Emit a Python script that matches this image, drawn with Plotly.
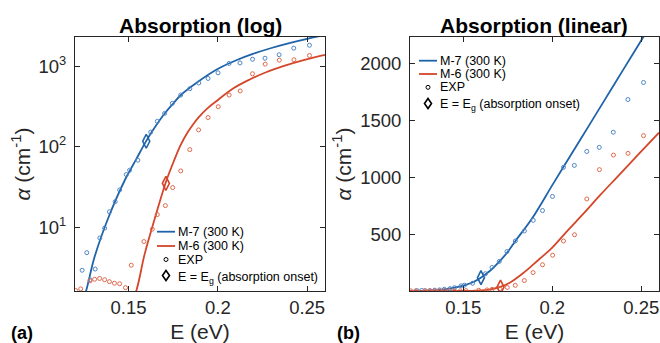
import plotly.graph_objects as go

# ---------------- data ----------------
E_m7 = [0.1200, 0.1230, 0.1262, 0.1309, 0.1384, 0.1478, 0.1543, 0.1596, 0.1650, 0.1702,
        0.1750, 0.1796, 0.1887, 0.2001, 0.2100, 0.2200, 0.2300, 0.2400, 0.2506, 0.2600]
a_m7 = [0.6, 1.0, 1.6, 4.2, 12.6, 38, 70, 115, 178, 259,
        345, 447, 640, 934, 1185, 1440, 1695, 1950, 2220, 2460]

E_m6 = [0.1200, 0.1400, 0.1480, 0.1543, 0.1590, 0.1646, 0.1712, 0.1758, 0.1790, 0.1830,
        0.1860, 0.1892, 0.1940, 0.1991, 0.2085, 0.2179, 0.2270, 0.2366, 0.2480, 0.2600]
a_m6 = [0.02, 0.2, 0.7, 1.6, 4.6, 12.6, 38, 70, 103, 150,
        188, 232, 298, 368, 530, 687, 845, 1005, 1195, 1393]

E_exp7 = [0.1240, 0.1266, 0.1285, 0.1313, 0.1339, 0.1366, 0.1393, 0.1425, 0.1450, 0.1487,
          0.1506, 0.1552, 0.1624, 0.1661, 0.1702, 0.1745, 0.1792, 0.1843, 0.1893, 0.1945,
          0.2001, 0.2063, 0.2124, 0.2194, 0.2264, 0.2343, 0.2425, 0.2513]
a_exp7 = [2.9, 4.8, 2.2, 3.0, 7.3, 9.7, 15.5, 20.7, 29, 45,
          51, 68, 152, 207, 260, 347, 440, 528, 622, 708,
          832, 1088, 1105, 1228, 1264, 1397, 1685, 1835]

E_exp6 = [0.1204, 0.1232, 0.1284, 0.1310, 0.1338, 0.1366, 0.1393, 0.1421, 0.1450, 0.1483,
          0.1515, 0.1586, 0.1633, 0.1661, 0.1706, 0.1747, 0.1792, 0.1843, 0.1892, 0.1945,
          0.2002, 0.2063, 0.2125, 0.2194, 0.2265, 0.2344, 0.2426, 0.2513]
a_exp6 = [1.62, 1.7, 2.14, 2.24, 2.29, 2.21, 2.09, 2.0, 1.97, 1.76,
          3.35, 6.6, 9.4, 14.3, 18.5, 31, 50, 92, 162, 231,
          315, 440, 495, 810, 1068, 1196, 1211, 1367]

Eg_m7 = [0.1599]
aEg_m7 = [117]
Eg_m6 = [0.1709]
aEg_m6 = [35]

x_ticks = [0.15, 0.2, 0.25]
x_ticktext = ["0.15", "0.2", "0.25"]
log_ticks = [10, 100, 1000]
log_ticktext = ["10<sup>1</sup>", "10<sup>2</sup>", "10<sup>3</sup>"]
lin_ticks = [500, 1000, 1500, 2000]

legend_labels = ["M-7 (300 K)", "M-6 (300 K)", "EXP", "E = E<sub>g</sub> (absorption onset)"]

# ---------------- styling ----------------
W, H = 660, 343
BLUE = "#1F63A8"
RED = "#D4462A"
BLUE_L = "#4F86C6"
RED_L = "#E06A4E"
AX = "#262626"
FONT = "Liberation Sans, Arial, Helvetica, sans-serif"

fig = go.Figure()

for xa, ya in (("x", "y"), ("x2", "y2")):
    fig.add_trace(go.Scatter(x=E_m7, y=a_m7, mode="lines", line=dict(color=BLUE, width=1.8, shape="spline"),
                             xaxis=xa, yaxis=ya, showlegend=False, name="M-7 (300 K)"))
    fig.add_trace(go.Scatter(x=E_m6, y=a_m6, mode="lines", line=dict(color=RED, width=1.8, shape="spline"),
                             xaxis=xa, yaxis=ya, showlegend=False, name="M-6 (300 K)"))
    fig.add_trace(go.Scatter(x=E_exp7, y=a_exp7, mode="markers",
                             marker=dict(symbol="circle-open", size=4, color=BLUE_L, line=dict(width=1)),
                             xaxis=xa, yaxis=ya, showlegend=False, name="EXP M-7"))
    fig.add_trace(go.Scatter(x=E_exp6, y=a_exp6, mode="markers",
                             marker=dict(symbol="circle-open", size=4, color=RED_L, line=dict(width=1)),
                             xaxis=xa, yaxis=ya, showlegend=False, name="EXP M-6"))
    fig.add_trace(go.Scatter(x=Eg_m7, y=aEg_m7, mode="markers",
                             marker=dict(symbol="diamond-tall-open", size=10, color=BLUE, line=dict(width=1.6)),
                             xaxis=xa, yaxis=ya, showlegend=False, name="Eg M-7"))
    fig.add_trace(go.Scatter(x=Eg_m6, y=aEg_m6, mode="markers",
                             marker=dict(symbol="diamond-tall-open", size=10, color=RED, line=dict(width=1.6)),
                             xaxis=xa, yaxis=ya, showlegend=False, name="Eg M-6"))

common_x = dict(range=[0.12, 0.26], tickvals=x_ticks, ticktext=x_ticktext, ticks="inside", ticklen=5,
                tickcolor=AX, showline=True, linecolor=AX, linewidth=1, mirror="allticks",
                showgrid=False, zeroline=False, tickfont=dict(size=18.5, color=AX, family=FONT),
                ticklabelstandoff=0,
                title=dict(text="E (eV)", font=dict(size=21, color=AX, family=FONT), standoff=7))
common_y = dict(ticks="inside", ticklen=5, tickcolor=AX, showline=True, linecolor=AX, linewidth=1,
                mirror="allticks", showgrid=False, zeroline=False,
                tickfont=dict(size=18.5, color=AX, family=FONT), ticklabelstandoff=4,
                title=dict(text="<i>α</i> (cm<sup>-1</sup>)", font=dict(size=21, color=AX, family=FONT), standoff=2))

y_dom = [1 - 291 / H, 1 - 37 / H]
fig.update_layout(
    xaxis=dict(common_x, domain=[75 / W, 325 / W], anchor="y"),
    yaxis=dict(common_y, domain=y_dom, anchor="x", type="log", range=[0.204, 3.366],
               tickvals=log_ticks, ticktext=log_ticktext),
    xaxis2=dict(common_x, domain=[410 / W, 659 / W], anchor="y2"),
    yaxis2=dict(common_y, domain=y_dom, anchor="x2", range=[0, 2235], tickvals=lin_ticks),
)

annotations = []
shapes = []

def px(x):
    return x / W

def py(y):
    return 1 - y / H

# titles and panel labels
annotations.append(dict(text="<b>Absorption (log)</b>", x=px(200), y=py(25), xref="paper", yref="paper",
                        showarrow=False, xanchor="center", yanchor="middle",
                        font=dict(size=21, color="black", family=FONT)))
annotations.append(dict(text="<b>Absorption (linear)</b>", x=px(534), y=py(25), xref="paper", yref="paper",
                        showarrow=False, xanchor="center", yanchor="middle",
                        font=dict(size=21, color="black", family=FONT)))
annotations.append(dict(text="<b>(a)</b>", x=px(9), y=py(333), xref="paper", yref="paper",
                        showarrow=False, xanchor="left", yanchor="middle",
                        font=dict(size=18, color="black", family=FONT)))
annotations.append(dict(text="<b>(b)</b>", x=px(335), y=py(333), xref="paper", yref="paper",
                        showarrow=False, xanchor="left", yanchor="middle",
                        font=dict(size=18, color="black", family=FONT)))

# manual legends (glyph x-start, text x, row y positions)
def add_legend(x0, x1, xt, rows):
    xm = (x0 + x1) / 2
    colors = [BLUE, RED]
    for i in range(2):
        shapes.append(dict(type="line", xref="paper", yref="paper", x0=px(x0), x1=px(x1),
                           y0=py(rows[i]), y1=py(rows[i]), line=dict(color=colors[i], width=1.8)))
    shapes.append(dict(type="circle", xref="paper", yref="paper", xsizemode="pixel", ysizemode="pixel",
                       xanchor=px(xm), yanchor=py(rows[2]), x0=-2, x1=2, y0=-2, y1=2,
                       line=dict(color="black", width=1)))
    shapes.append(dict(type="path", xref="paper", yref="paper", xsizemode="pixel", ysizemode="pixel",
                       xanchor=px(xm), yanchor=py(rows[3]), path="M0,5 L3.5,0 L0,-5 L-3.5,0 Z",
                       line=dict(color="black", width=1.6)))
    for i, lab in enumerate(legend_labels):
        yy = rows[i] + (2 if i == 3 else 0)
        annotations.append(dict(text=lab, x=px(xt), y=py(yy), xref="paper", yref="paper",
                                showarrow=False, xanchor="left", yanchor="middle",
                                font=dict(size=12.5, color="black", family=FONT)))

add_legend(157, 175, 175.5, [231.7, 246, 259.5, 275.5])
add_legend(419, 437, 437.5, [60.7, 74, 87.3, 103.5])

fig.update_layout(width=W, height=H, margin=dict(l=0, r=0, t=0, b=0),
                  paper_bgcolor="white", plot_bgcolor="white",
                  annotations=annotations, shapes=shapes, showlegend=False,
                  font=dict(family=FONT))

fig.write_html("out.html", config={"displayModeBar": False},
               post_script="document.body.style.margin='0';document.body.style.overflow='hidden';")
